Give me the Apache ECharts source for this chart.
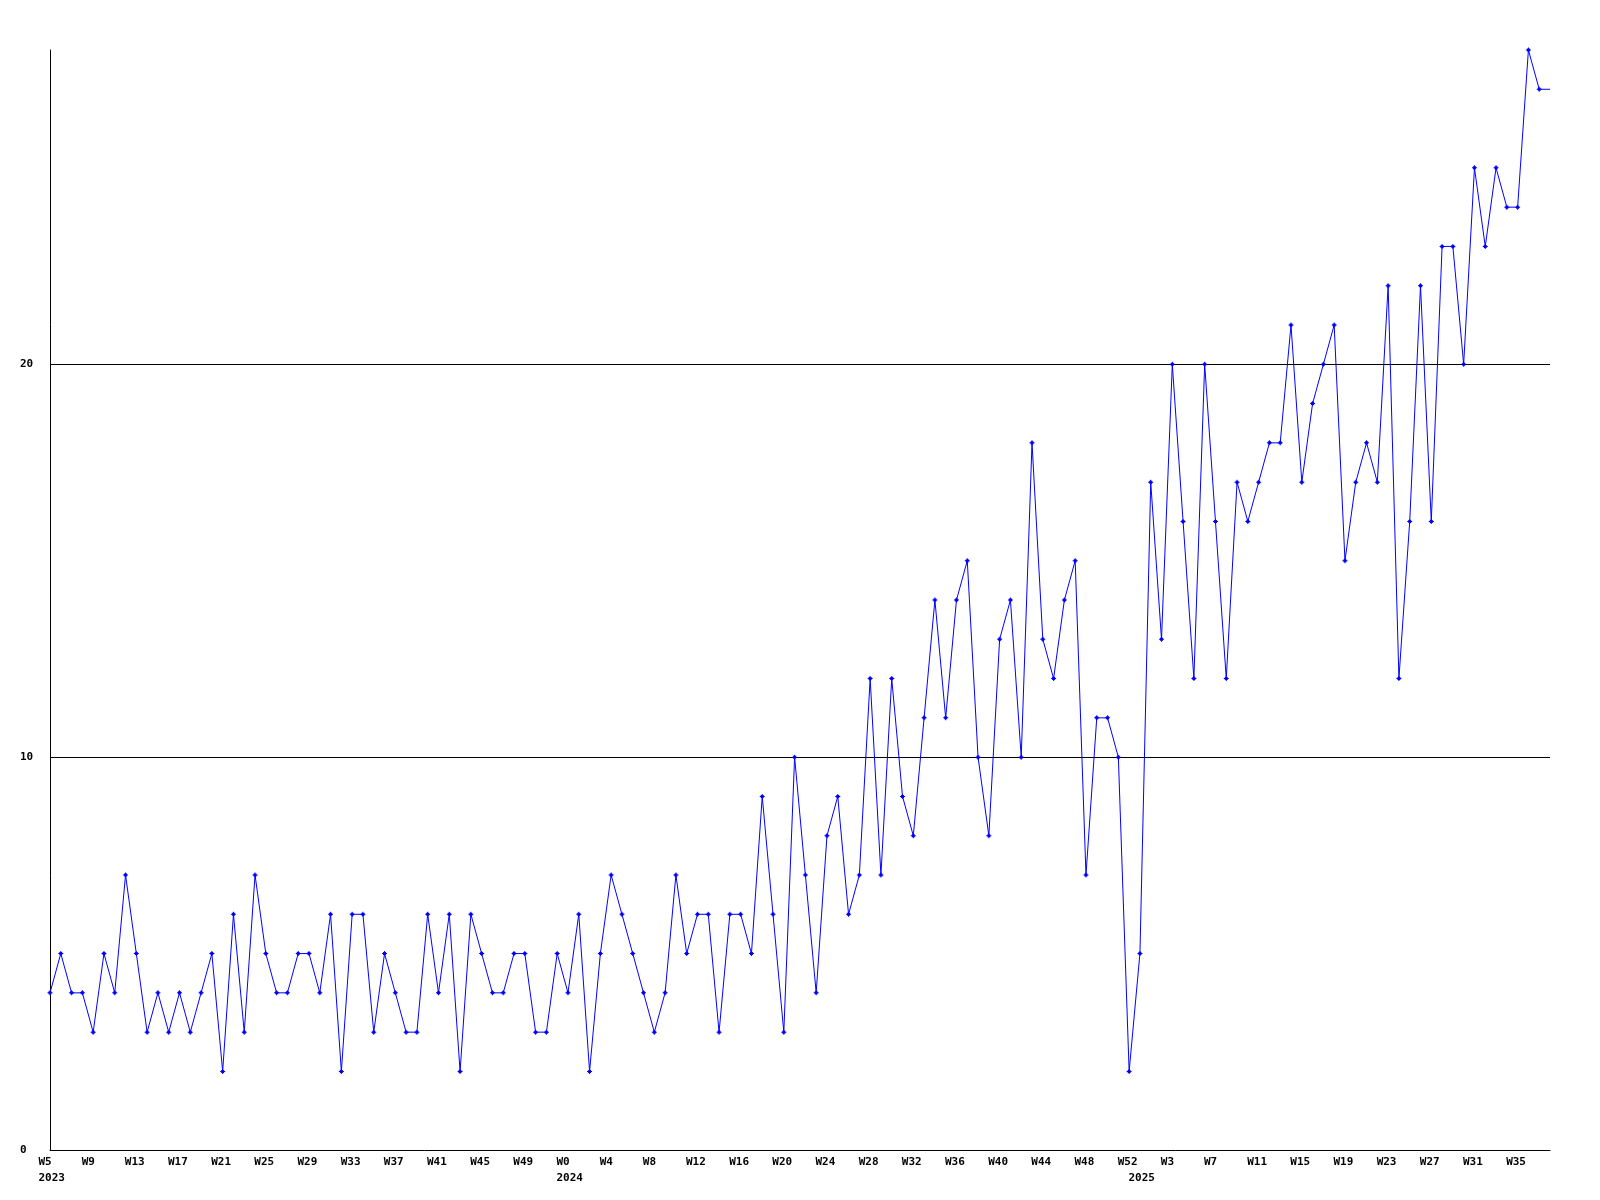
<!DOCTYPE html>
<html>
<head>
<meta charset="utf-8">
<script src="https://cdn.jsdelivr.net/npm/echarts@6/dist/echarts.min.js"></script>
<style>
html,body{margin:0;padding:0;background:#fff;}
#chart{width:1600px;height:1200px;}
</style>
</head>
<body>
<div id="chart"></div>
<script>
// Week numbers per year (x categories)
const weeks2023 = [5,6,7,8,9,10,11,12,13,14,15,16,17,18,19,20,21,22,23,24,25,26,27,28,29,30,31,32,33,34,35,36,37,38,39,40,41,42,43,44,45,46,47,48,49,50,51,52];
const weeks2024 = [0,1,2,3,4,5,6,7,8,9,10,11,12,13,14,15,16,17,18,19,20,21,22,23,24,25,26,27,28,29,30,31,32,33,34,35,36,37,38,39,40,41,42,43,44,45,46,47,48,49,50,51,52];
const weeks2025 = [0,1,2,3,4,5,6,7,8,9,10,11,12,13,14,15,16,17,18,19,20,21,22,23,24,25,26,27,28,29,30,31,32,33,34,35,36,37,38];

// Weekly values
const values2023 = [4,5,4,4,3,5,4,7,5,3,4,3,4,3,4,5,2,6,3,7,5,4,4,5,5,4,6,2,6,6,3,5,4,3,3,6,4,6,2,6,5,4,4,5,5,3,3,5];
const values2024 = [4,6,2,5,7,6,5,4,3,4,7,5,6,6,3,6,6,5,9,6,3,10,7,4,8,9,6,7,12,7,12,9,8,11,14,11,14,15,10,8,13,14,10,18,13,12,14,15,7,11,11,10,2];
const values2025 = [5,17,13,20,16,12,20,16,12,17,16,17,18,18,21,17,19,20,21,15,17,18,17,22,12,16,22,16,23,23,20,25,23,25,24,24,28,27,27];

const yTicks = [0, 10, 20];
const yMax = 28;

const categories = [];
const yearOf = [];
const weekOf = [];
[[2023, weeks2023], [2024, weeks2024], [2025, weeks2025]].forEach(([y, ws]) => {
  ws.forEach(w => { categories.push(y + ' W' + w); yearOf.push(y); weekOf.push('W' + w); });
});
const allValues = values2023.concat(values2024, values2025);
const seriesData = allValues.map((v, i) => i === allValues.length - 1 ? { value: v, symbol: 'none' } : v);

const yearStart = {};
yearOf.forEach((y, i) => { if (!(y in yearStart)) yearStart[y] = i; });
const yearStartIdx = Object.values(yearStart);

const FONT = 'DejaVu Sans Mono';
const chart = echarts.init(document.getElementById('chart'), null, { renderer: 'canvas' });
chart.setOption({
  animation: false,
  backgroundColor: '#ffffff',
  grid: { left: 50, right: 50, top: 50, bottom: 50, containLabel: false },
  xAxis: [{
    type: 'category',
    data: categories,
    boundaryGap: false,
    axisLine: { show: true, lineStyle: { color: '#000', width: 1 } },
    axisTick: { show: false },
    splitLine: { show: false },
    axisLabel: {
      interval: 3,
      margin: 7,
      formatter: (v, i) => '{a|' + weekOf[i] + '}',
      rich: { a: { width: 23, align: 'left', fontFamily: FONT, fontWeight: 'bold', fontSize: 11, color: '#000' } }
    }
  }, {
    type: 'category',
    data: categories,
    boundaryGap: false,
    position: 'bottom',
    offset: 16,
    axisLine: { show: false },
    axisTick: { show: false },
    splitLine: { show: false },
    axisLabel: {
      interval: (i) => yearStartIdx.indexOf(i) >= 0,
      margin: 7,
      formatter: (v, i) => '{a|' + yearOf[i] + '}',
      rich: { a: { width: 23, align: 'left', fontFamily: FONT, fontWeight: 'bold', fontSize: 11, color: '#000' } }
    }
  }],
  yAxis: {
    type: 'value',
    min: yTicks[0],
    max: yMax,
    interval: 10,
    axisLine: { show: true, lineStyle: { color: '#000', width: 1 } },
    axisTick: { show: false },
    splitLine: { show: true, showMinLine: false, showMaxLine: false, lineStyle: { color: '#000', width: 1 } },
    axisLabel: {
      showMaxLabel: false,
      align: 'left',
      margin: 30,
      fontFamily: FONT, fontWeight: 'bold', fontSize: 11, color: '#000'
    }
  },
  series: [{
    type: 'line',
    data: seriesData,
    xAxisIndex: 0,
    symbol: 'path://M2,0H3V1H4V2H5V3H4V4H3V5H2V4H1V3H0V2H1V1H2Z',
    symbolSize: 5,
    showAllSymbol: true,
    lineStyle: { color: '#0000ff', width: 1 },
    itemStyle: { color: '#0000ff' },
    emphasis: { disabled: true }
  }]
});
</script>
</body>
</html>
